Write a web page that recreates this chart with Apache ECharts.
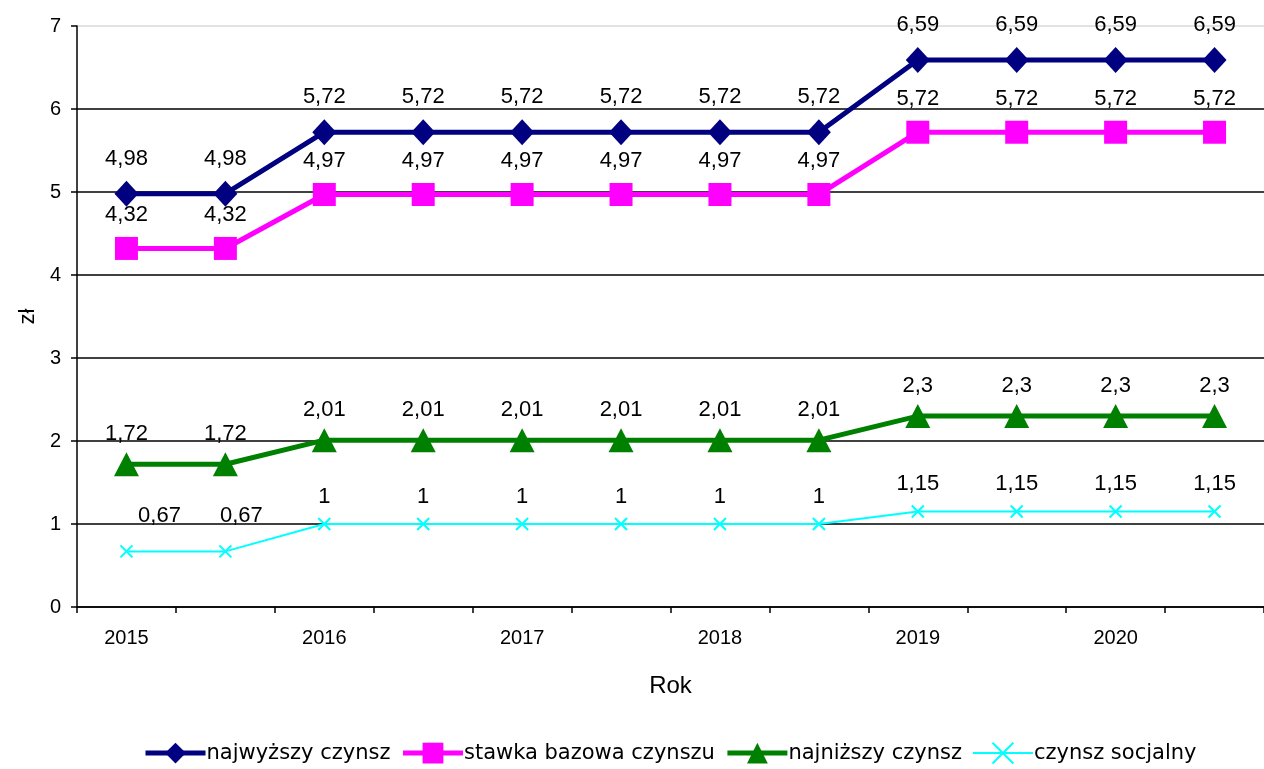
<!DOCTYPE html>
<html>
<head>
<meta charset="utf-8">
<script src="https://cdn.jsdelivr.net/npm/echarts@6/dist/echarts.min.js"></script>
<style>
* { margin: 0; padding: 0; }
#chart-container { width: 1264px; height: 769px; background: #fff; }
</style>
</head>
<body>
<div id="chart-container"></div>
<script>
const categories = ['2015', '', '2016', '', '2017', '', '2018', '', '2019', '', '2020', '']
const najwyzszy = [4.98, 4.98, 5.72, 5.72, 5.72, 5.72, 5.72, 5.72, 6.59, 6.59, 6.59, 6.59]
const stawkaBazowa = [4.32, 4.32, 4.97, 4.97, 4.97, 4.97, 4.97, 4.97, 5.72, 5.72, 5.72, 5.72]
const najnizszy = [1.72, 1.72, 2.01, 2.01, 2.01, 2.01, 2.01, 2.01, 2.3, 2.3, 2.3, 2.3]
const socjalny = [0.67, 0.67, 1, 1, 1, 1, 1, 1, 1.15, 1.15, 1.15, 1.15]
const seriesNames = ['najwyższy czynsz', 'stawka bazowa czynszu', 'najniższy czynsz', 'czynsz socjalny']

const FONT = 'Liberation Sans, Arial, sans-serif'
const chart = echarts.init(document.getElementById('chart-container'))

const commaLabel = (p) => String(p.value).replace('.', ',')

const baseLabel = {
  show: true,
  position: 'top',
  color: '#000',
  fontFamily: FONT,
  fontSize: 22,
  formatter: commaLabel
}

// cyan labels for the first year sit to the right of the markers
const socjalnyData = socjalny.map((v, i) => {
  if (i === 0) return { value: v, label: { offset: [33, -8] } }
  if (i === 1) return { value: v, label: { offset: [16, -8] } }
  return v
})

const option = {
  animation: false,
  backgroundColor: '#fff',
  grid: {
    left: 77,
    right: -9,
    top: 26,
    bottom: 162
  },
  legend: {
    bottom: -2,
    left: 138,
    itemWidth: 60,
    itemHeight: 26,
    itemGap: 10,
    textStyle: { fontFamily: 'DejaVu Sans, sans-serif', fontSize: 21, color: '#000', padding: [0, 0, 0, -4] },
    data: [
      { name: seriesNames[0], lineStyle: { width: 5 } },
      { name: seriesNames[1], lineStyle: { width: 5 } },
      { name: seriesNames[2], lineStyle: { width: 5 } },
      { name: seriesNames[3], lineStyle: { width: 2 } }
    ]
  },
  xAxis: {
    type: 'category',
    data: categories,
    boundaryGap: true,
    name: 'Rok',
    nameLocation: 'middle',
    nameGap: 67,
    nameTextStyle: { fontFamily: FONT, fontSize: 24, color: '#000' },
    axisLine: { lineStyle: { color: '#000', width: 1.5 } },
    axisTick: { show: true, interval: 0, length: 6, lineStyle: { color: '#000', width: 1.5 } },
    axisLabel: { interval: 0, margin: 21, fontFamily: FONT, fontSize: 20, color: '#000' },
    splitLine: { show: false }
  },
  yAxis: {
    type: 'value',
    min: 0,
    max: 7,
    interval: 1,
    name: 'zł',
    nameLocation: 'middle',
    nameGap: 36,
    nameTextStyle: { fontFamily: FONT, fontSize: 22, color: '#000' },
    axisLine: { show: true, lineStyle: { color: '#000', width: 1.5 } },
    axisTick: { show: true, length: 6, lineStyle: { color: '#000', width: 1.5 } },
    axisLabel: { margin: 16, fontFamily: FONT, fontSize: 20, color: '#000' },
    splitLine: {
      show: true,
      lineStyle: {
        color: ['#000', '#000', '#000', '#000', '#000', '#000', '#000', '#d9d9d9'],
        width: 1.5
      }
    }
  },
  series: [
    {
      name: seriesNames[0],
      type: 'line',
      data: najwyzszy,
      symbol: 'diamond',
      symbolSize: [24, 26],
      color: '#000080',
      lineStyle: { width: 5, color: '#000080' },
      label: Object.assign({}, baseLabel, { distance: 11 })
    },
    {
      name: seriesNames[1],
      type: 'line',
      data: stawkaBazowa,
      symbol: 'rect',
      symbolSize: 23,
      color: '#ff00ff',
      lineStyle: { width: 5, color: '#ff00ff' },
      label: Object.assign({}, baseLabel, { distance: 11 })
    },
    {
      name: seriesNames[2],
      type: 'line',
      data: najnizszy,
      symbol: 'triangle',
      symbolSize: [25, 24],
      color: '#008000',
      lineStyle: { width: 5, color: '#008000' },
      label: Object.assign({}, baseLabel, { distance: 7 })
    },
    {
      name: seriesNames[3],
      type: 'line',
      data: socjalnyData,
      symbol: 'path://M0,0L10,10M10,0L0,10',
      symbolSize: 12,
      color: '#00ffff',
      itemStyle: { color: 'none', borderColor: '#00ffff', borderWidth: 2 },
      lineStyle: { width: 2, color: '#00ffff' },
      label: Object.assign({}, baseLabel, { distance: 8 })
    }
  ]
}

chart.setOption(option)
</script>
</body>
</html>
